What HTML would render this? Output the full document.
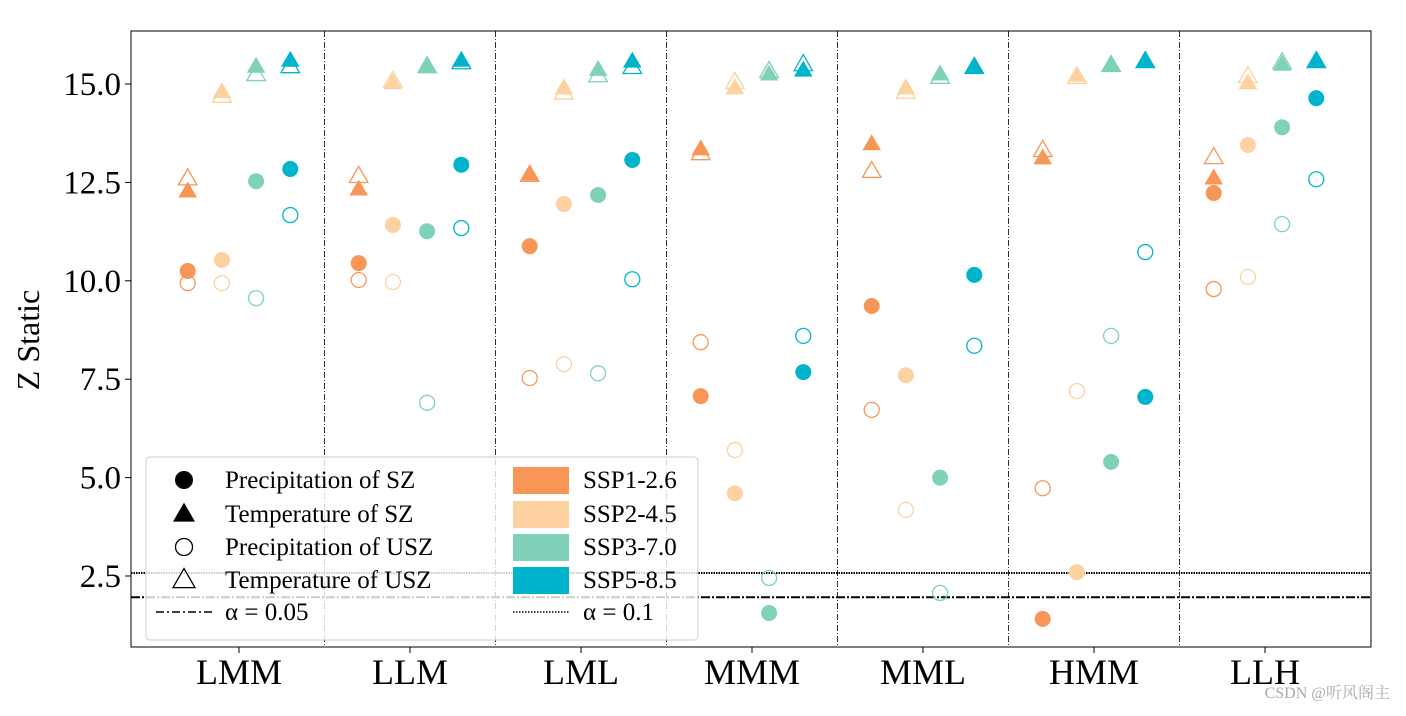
<!DOCTYPE html>
<html><head><meta charset="utf-8"><style>
body{margin:0;background:#fff;}
svg text{font-family:"Liberation Serif","Noto Serif CJK SC",serif;}
</style></head><body>
<svg id="chart" width="1406" height="711" xmlns="http://www.w3.org/2000/svg"></svg>
<script>
const categories=["LMM","LLM","LML","MMM","MML","HMM","LLH"];
const ssps=["SSP1-2.6","SSP2-4.5","SSP3-7.0","SSP5-8.5"];
const colors=["#F79656","#FDD1A0","#80D1B9","#00B4CB"];
// [category][ssp]
const precipSZ=[[10.25,10.53,12.53,12.84],[10.45,11.42,11.26,12.95],[10.88,11.95,12.18,13.07],[7.07,4.6,1.56,7.68],[9.36,7.6,5.0,10.15],[1.41,2.6,5.4,7.05],[12.23,13.45,13.9,14.64]];
const tempSZ=[[12.28,14.8,15.45,15.6],[12.33,15.03,15.45,15.6],[12.71,14.9,15.37,15.58],[13.35,14.9,15.25,15.35],[13.48,14.9,15.25,15.43],[13.12,15.22,15.48,15.58],[12.61,15.03,15.5,15.58]];
const precipUSZ=[[9.94,9.94,9.56,11.67],[10.02,9.97,6.9,11.34],[7.53,7.88,7.65,10.04],[8.44,5.7,2.45,8.6],[6.72,4.18,2.07,8.35],[4.73,7.2,8.6,10.73],[9.79,10.1,11.44,12.58]];
const tempUSZ=[[12.6,14.7,15.25,15.45],[12.66,15.08,15.45,15.55],[12.69,14.78,15.22,15.43],[13.24,15.05,15.33,15.5],[12.79,14.8,15.18,15.43],[13.32,15.18,15.48,15.58],[13.14,15.2,15.55,15.58]];
const yTicks=[2.5,5.0,7.5,10.0,12.5,15.0];
const alpha05=1.96, alpha10=2.576;
const offsets=[-0.3,-0.1,0.1,0.3];

const L=131,R=1371,T=31,B=647;
const xs=i=>239+171*i;
const ys=v=>674.4-39.36*v;
const svg=document.getElementById('chart');
const NS="http://www.w3.org/2000/svg";
function mk(tag,attrs,parent){const e=document.createElementNS(NS,tag);for(const k in attrs)e.setAttribute(k,attrs[k]);(parent||svg).appendChild(e);return e;}

let g=mk('g',{});

for(let i=0;i<6;i++){mk('line',{x1:xs(i+0.5),x2:xs(i+0.5),y1:T,y2:B,stroke:'#000','stroke-width':0.8,'stroke-dasharray':'6,2,1,2'},g);}
let l1=mk('line',{x1:L,x2:R,y1:ys(alpha05),y2:ys(alpha05),stroke:'#000','stroke-width':2,'stroke-dasharray':'9,2,2,2'});

let l2=mk('line',{x1:L,x2:R,y1:ys(alpha10),y2:ys(alpha10),stroke:'#000','stroke-width':2,'stroke-dasharray':'1.5,1'});


function tri(cx,cy,s){return `${cx},${cy-s*0.6} ${cx-s*0.58},${cy+s*0.4} ${cx+s*0.58},${cy+s*0.4}`;}
for(let c=0;c<categories.length;c++){
  for(let s=0;s<4;s++){
    const x=xs(c+offsets[s]),col=colors[s];
    let e=mk('polygon',{points:tri(x,ys(tempUSZ[c][s]),16),fill:'none',stroke:col,'stroke-width':1.3});
    
    e=mk('polygon',{points:tri(x,ys(tempSZ[c][s]),16),fill:col});
    
    e=mk('circle',{cx:x,cy:ys(precipUSZ[c][s]),r:7.5,fill:'none',stroke:col,'stroke-width':1.3});
    
    e=mk('circle',{cx:x,cy:ys(precipSZ[c][s]),r:8,fill:col});
    
  }
  let t=mk('text',{x:xs(c),y:684,'font-size':36,'text-anchor':'middle'});t.textContent=categories[c];
  
}
for(const v of yTicks){
  mk('line',{x1:L-6,x2:L,y1:ys(v),y2:ys(v),stroke:'#000','stroke-width':1});
  let t=mk('text',{x:121,y:ys(v)+11,'font-size':33,'text-anchor':'end'});t.textContent=v.toFixed(1);
  
}
for(let c=0;c<7;c++)mk('line',{x1:xs(c),x2:xs(c),y1:B,y2:B+6,stroke:'#000'});
let fr=mk('rect',{x:L,y:T,width:R-L,height:B-T,fill:'none',stroke:'#000','stroke-width':1});

let yt=mk('text',{x:0,y:0,'font-size':32,'text-anchor':'middle',transform:'translate(39,340) rotate(-90)'});yt.textContent='Z Static';


// legend
let lg=mk('g',{});
mk('rect',{x:146,y:457,width:552,height:183,rx:4,fill:'rgba(255,255,255,0.8)',stroke:'#ccc','stroke-width':1},lg);
const rows=[480,514,547,580,612];
mk('circle',{cx:184,cy:rows[0],r:9,fill:'#000'},lg);
mk('polygon',{points:tri(184,rows[1],19),fill:'#000'},lg);
mk('circle',{cx:184,cy:rows[2],r:8.5,fill:'none',stroke:'#000','stroke-width':1.3},lg);
mk('polygon',{points:tri(184,rows[3],19),fill:'none',stroke:'#000','stroke-width':1.3},lg);
mk('line',{x1:156,x2:212,y1:rows[4],y2:rows[4],stroke:'#000','stroke-width':1.5,'stroke-dasharray':'8,3,2,3'},lg);
const lab1=["Precipitation of SZ","Temperature of SZ","Precipitation of USZ","Temperature of USZ","α = 0.05"];
lab1.forEach((s,i)=>{let t=mk('text',{x:225,y:rows[i]+8,'font-size':25},lg);t.textContent=s;});
ssps.forEach((s,i)=>{mk('rect',{x:513,y:rows[i]-13,width:56,height:27,fill:colors[i]},lg);let t=mk('text',{x:583,y:rows[i]+8,'font-size':25},lg);t.textContent=s;});
mk('line',{x1:513,x2:569,y1:rows[4],y2:rows[4],stroke:'#000','stroke-width':1.5,'stroke-dasharray':'1.5,1.5'},lg);
let t5=mk('text',{x:583,y:rows[4]+8,'font-size':25},lg);t5.textContent='α = 0.1';
let wm=mk('text',{x:1390,y:698,'font-size':16,'text-anchor':'end',fill:'#aaa','font-family':'"Liberation Sans","Noto Sans CJK SC",sans-serif'});wm.textContent='CSDN @听风阁主';

</script>
</body></html>
